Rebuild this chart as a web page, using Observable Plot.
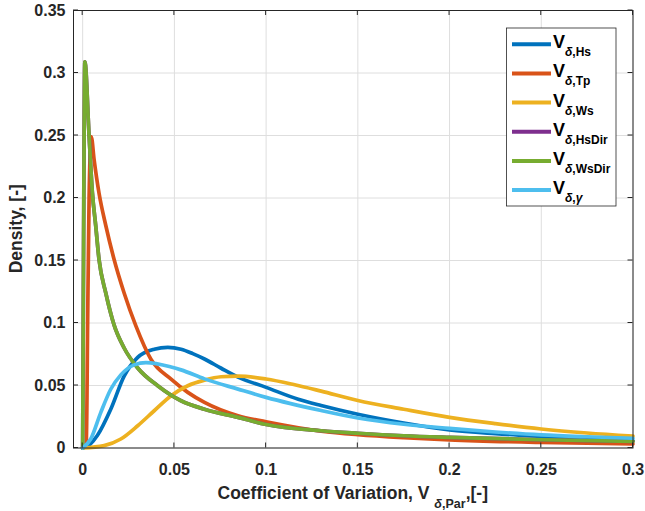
<!DOCTYPE html>
<html><head><meta charset="utf-8">
<script src="https://cdn.jsdelivr.net/npm/d3@7"></script>
<script src="https://cdn.jsdelivr.net/npm/@observablehq/plot@0.6"></script>
<style>body{margin:0;background:#fff} svg{display:block}</style>
</head><body><div id="chart"></div>
<script>
// ---- data ----
const xTicks = [0, 0.05, 0.1, 0.15, 0.2, 0.25, 0.3];
const xTickLabels = ["0", "0.05", "0.1", "0.15", "0.2", "0.25", "0.3"];
const yTicks = [0, 0.05, 0.1, 0.15, 0.2, 0.25, 0.3, 0.35];
const yTickLabels = ["0", "0.05", "0.1", "0.15", "0.2", "0.25", "0.3", "0.35"];

const seriesNames = ["Hs", "Tp", "Ws", "HsDir", "WsDir", "γ"];
const seriesColors = ["#0072BD", "#D95319", "#EDB120", "#7E2F8E", "#77AC30", "#4DBEEE"];

const hsX = [0, 0.004, 0.008, 0.0153, 0.0226, 0.030, 0.039, 0.0464, 0.0536, 0.06, 0.0664, 0.0755, 0.0847, 0.1, 0.1175, 0.13, 0.15, 0.175, 0.2, 0.225, 0.25, 0.275, 0.3];
const hsY = [0, 0.003, 0.010, 0.031, 0.0575, 0.0725, 0.079, 0.0805, 0.079, 0.0755, 0.0712, 0.0638, 0.0567, 0.0485, 0.039, 0.034, 0.027, 0.020, 0.0145, 0.0115, 0.0093, 0.0073, 0.0058];

const tpX = [0, 0.002, 0.0027, 0.0035, 0.0047, 0.0062, 0.0089, 0.0126, 0.0171, 0.0226, 0.029, 0.0372, 0.0482, 0.0573, 0.0664, 0.0847, 0.1, 0.13, 0.15, 0.175, 0.2, 0.25, 0.3];
const tpY = [0, 0.002, 0.1, 0.2, 0.249, 0.231, 0.204, 0.178, 0.151, 0.124, 0.0977, 0.071, 0.0551, 0.0445, 0.0365, 0.0258, 0.021, 0.0135, 0.0107, 0.0083, 0.0065, 0.0044, 0.0032];

const wsX = [0, 0.0117, 0.0208, 0.030, 0.039, 0.0482, 0.0573, 0.0664, 0.0755, 0.0847, 0.1, 0.115, 0.13, 0.15, 0.175, 0.2, 0.225, 0.25, 0.275, 0.3];
const wsY = [0, 0.0019, 0.0072, 0.0178, 0.0298, 0.0418, 0.0498, 0.0543, 0.057, 0.0575, 0.0552, 0.0508, 0.0455, 0.038, 0.031, 0.0245, 0.0195, 0.0152, 0.012, 0.0095];

const hsDirX = [0, 0.0003, 0.0012, 0.0035, 0.0053, 0.0071, 0.0089, 0.0126, 0.0171, 0.0226, 0.030, 0.0409, 0.0536, 0.0664, 0.0847, 0.1, 0.13, 0.15, 0.175, 0.2, 0.25, 0.3];
const hsDirY = [0, 0.1, 0.309, 0.2496, 0.204, 0.178, 0.151, 0.124, 0.0985, 0.08, 0.064, 0.0498, 0.0378, 0.031, 0.0245, 0.0188, 0.0138, 0.0118, 0.0098, 0.0085, 0.0066, 0.0053];

const wsDirX = [0, 0.0003, 0.0012, 0.0035, 0.0053, 0.0071, 0.0089, 0.0126, 0.0171, 0.0226, 0.030, 0.0409, 0.0536, 0.0664, 0.0847, 0.1, 0.13, 0.15, 0.175, 0.2, 0.25, 0.3];
const wsDirY = [0, 0.1, 0.309, 0.2496, 0.204, 0.178, 0.151, 0.124, 0.0985, 0.08, 0.064, 0.0498, 0.0378, 0.031, 0.0245, 0.0188, 0.0138, 0.0118, 0.0098, 0.0085, 0.0066, 0.0053];

const gammaX = [0, 0.0044, 0.0099, 0.0153, 0.0208, 0.0281, 0.0345, 0.0482, 0.0536, 0.0664, 0.0847, 0.1, 0.13, 0.15, 0.175, 0.2, 0.225, 0.25, 0.275, 0.3];
const gammaY = [0, 0.0072, 0.0285, 0.047, 0.0585, 0.0665, 0.0683, 0.0648, 0.0625, 0.0553, 0.0471, 0.0405, 0.030, 0.024, 0.019, 0.0157, 0.0128, 0.0105, 0.009, 0.0078];

const seriesX = [hsX, tpX, wsX, hsDirX, wsDirX, gammaX];
const seriesY = [hsY, tpY, wsY, hsDirY, wsDirY, gammaY];

// ---- build ----
const FONT = "'Liberation Sans', Arial, Helvetica, sans-serif";
const INK = "#262626";

const lineMarks = seriesNames.map((name, i) => {
  const rows = seriesX[i].map((x, j) => ({x, y: seriesY[i][j]}));
  return Plot.line(rows, {x: "x", y: "y", stroke: seriesColors[i], strokeWidth: 3.7, curve: "monotone-x"});
});

const chart = Plot.plot({
  width: 645,
  height: 511,
  marginLeft: 73,
  marginRight: 12.5,
  marginTop: 10,
  marginBottom: 63.5,
  style: `font-family: ${FONT}; font-size: 16px; font-weight: bold; color: ${INK}; background: #fff;`,
  x: {domain: [-0.005, 0.3]},
  y: {domain: [0, 0.35]},
  marks: [
    Plot.gridX(xTicks, {stroke: "#dedede", strokeOpacity: 1, strokeWidth: 1}),
    Plot.gridY(yTicks, {stroke: "#dedede", strokeOpacity: 1, strokeWidth: 1}),
    Plot.axisX(xTicks, {tickSize: 0, tickPadding: 16, fontSize: 16, tickFormat: (d) => xTickLabels[xTicks.indexOf(d)], label: null, fill: INK}),
    Plot.axisY(yTicks, {tickSize: 0, tickPadding: 8, fontSize: 16, tickFormat: (d) => yTickLabels[yTicks.indexOf(d)], label: null, fill: INK}),
    ...lineMarks,
    Plot.frame({stroke: INK, strokeWidth: 1})
  ]
});
document.getElementById("chart").append(chart);

const sx = chart.scale("x"), sy = chart.scale("y");
const svg = d3.select(chart);
const [x0, x1] = sx.range;
const [y0, y1] = sy.range; // y0 bottom, y1 top
const TL = 5;
const tg = svg.append("g").attr("stroke", INK).attr("stroke-width", 1);
xTicks.forEach(v => {
  const px = sx.apply(v);
  tg.append("line").attr("x1", px).attr("x2", px).attr("y1", y0).attr("y2", y0 - TL);
  tg.append("line").attr("x1", px).attr("x2", px).attr("y1", y1).attr("y2", y1 + TL);
});
yTicks.forEach(v => {
  const py = sy.apply(v);
  tg.append("line").attr("y1", py).attr("y2", py).attr("x1", x0).attr("x2", x0 + TL);
  tg.append("line").attr("y1", py).attr("y2", py).attr("x1", x1).attr("x2", x1 - TL);
});

// axis labels
const xl = svg.append("text")
  .attr("x", (x0 + x1) / 2).attr("y", y0 + 51.5)
  .attr("text-anchor", "middle").attr("fill", INK)
  .style("font-size", "17.5px").style("font-weight", "bold");
xl.append("tspan").text("Coefficient of Variation, V ");
xl.append("tspan").attr("dy", 9).style("font-size", "12.5px").style("font-style", "italic").text("δ");
xl.append("tspan").style("font-size", "12.5px").text(",Par");
xl.append("tspan").attr("dy", -9).text(",[-]");

svg.append("text")
  .attr("transform", `translate(22, ${(y0 + y1) / 2}) rotate(-90)`)
  .attr("text-anchor", "middle").attr("fill", INK)
  .style("font-size", "17.5px").style("font-weight", "bold")
  .text("Density, [-]");

// legend
const lg = svg.append("g").attr("text-anchor", "start");
const LX = 506.5, LY = 28, LW = 109.5, LH = 178;
lg.append("rect").attr("x", LX).attr("y", LY).attr("width", LW).attr("height", LH)
  .attr("fill", "#fff").attr("stroke", INK).attr("stroke-width", 0.8);
seriesNames.forEach((name, i) => {
  const cy = 44.3 + i * 29.15;
  lg.append("line").attr("x1", 512).attr("x2", 551).attr("y1", cy).attr("y2", cy)
    .attr("stroke", seriesColors[i]).attr("stroke-width", 4);
  const t = lg.append("text").attr("x", 553).attr("y", cy + 4).attr("fill", "#000")
    .attr("text-anchor", "start")
    .style("font-size", "18px").style("font-weight", "bold");
  t.append("tspan").text("V");
  t.append("tspan").attr("dy", 8).style("font-size", "12px").style("font-style", "italic").text("δ");
  const rest = t.append("tspan").style("font-size", "12px");
  if (name === "γ") { rest.text(","); t.append("tspan").style("font-size", "12px").style("font-style", "italic").text("γ"); }
  else rest.text("," + name);
});
</script></body></html>
